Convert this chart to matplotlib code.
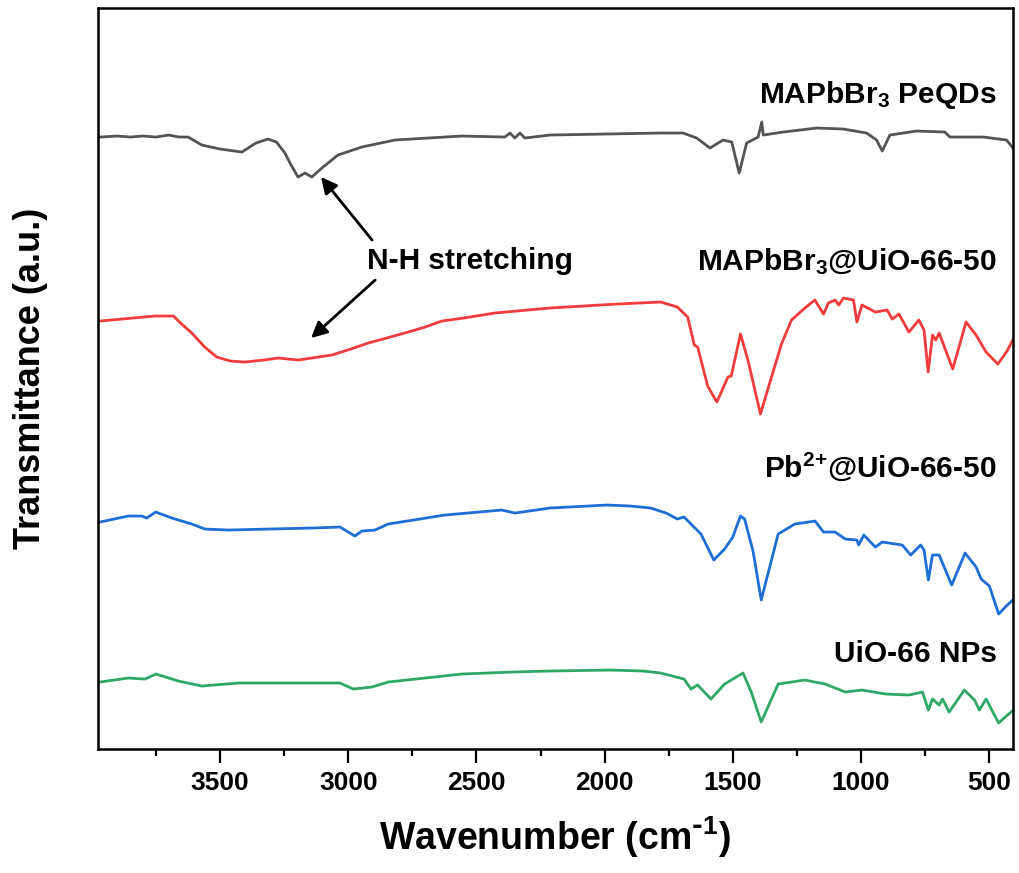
import matplotlib
matplotlib.use('Agg')
import matplotlib.pyplot as plt
import numpy as np

plt.rcParams.update({
    'font.family': ['Liberation Sans', 'DejaVu Sans'],
    'font.weight': 'bold',
    'mathtext.default': 'regular',
})

# FTIR spectra (wavenumber in cm-1, offset transmittance in a.u.)
wn_peqds = [3968, 3900, 3850, 3800, 3750, 3700, 3660, 3625, 3571, 3500, 3415, 3360, 3313,
            3280, 3247, 3225, 3196, 3169, 3142, 3103, 3040, 2947, 2818, 2689, 2557, 2389,
            2369, 2350, 2330, 2311, 2213, 2000, 1781, 1694, 1641, 1589, 1538, 1504, 1475,
            1446, 1401, 1387, 1381, 1303, 1173, 1069, 978, 939, 917, 887, 783, 673, 653,
            523, 432, 407]
tr_peqds = [612, 613, 612, 613, 612, 614, 612, 612, 604, 600, 597, 606, 610,
            607, 596, 585, 572, 576, 572, 581, 594, 602, 609, 611, 613, 612,
            616, 611, 616, 611, 614, 615, 616, 616, 611, 601, 609, 607, 576,
            606, 612, 627, 614, 617, 621, 620, 616, 609, 598, 614, 618, 617, 612,
            612, 609, 601]

wn_mof_pqd = [3968, 3754, 3682, 3650, 3610, 3560, 3513, 3460, 3403, 3330, 3273, 3195, 3064,
              2990, 2922, 2850, 2766, 2700, 2635, 2550, 2428, 2300, 2213, 1952, 1781, 1716,
              1676, 1650, 1637, 1598, 1562, 1519, 1506, 1470, 1441, 1392, 1349, 1310, 1271,
              1219, 1180, 1146, 1127, 1101, 1087, 1068, 1029, 1016, 996, 944, 898, 878, 852,
              813, 774, 754, 738, 721, 708, 695, 642, 590, 551, 512, 466, 430, 396]
tr_mof_pqd = [428, 433, 433, 425, 416, 402, 392, 388, 387, 389, 391, 389, 394,
              400, 406, 411, 417, 422, 428, 431, 436, 439, 441, 445, 447, 442,
              432, 404, 402, 363, 347, 372, 373, 415, 389, 335, 372, 405, 429,
              441, 449, 435, 446, 449, 444, 451, 449, 427, 444, 437, 439, 430, 435,
              417, 429, 419, 377, 414, 409, 416, 380, 427, 414, 397, 385, 398, 415]

wn_pb_mof = [3968, 3858, 3805, 3786, 3751, 3688, 3610, 3559, 3468, 3142, 3032, 2974, 2947,
             2896, 2844, 2623, 2401, 2350, 2213, 1991, 1900, 1820, 1760, 1716, 1690, 1624,
             1574, 1532, 1500, 1470, 1454, 1421, 1389, 1323, 1258, 1179, 1146, 1101, 1061,
             1016, 1009, 989, 944, 917, 839, 806, 767, 754, 737, 721, 695, 646, 594, 551,
             531, 499, 463, 433, 396]
tr_pb_mof = [227, 233, 233, 231, 237, 231, 225, 220, 219, 221, 222, 213, 218,
             219, 225, 234, 239, 236, 241, 244, 243, 241, 236, 230, 232, 215,
             189, 200, 212, 233, 230, 198, 149, 215, 225, 228, 217, 217, 210,
             209, 204, 214, 202, 207, 204, 194, 204, 199, 169, 194, 194, 164, 196, 182,
             170, 163, 135, 143, 152]

wn_uio = [3968, 3858, 3793, 3750, 3663, 3571, 3429, 3032, 2980, 2908, 2844, 2557, 2362,
          2213, 1977, 1850, 1781, 1690, 1663, 1637, 1585, 1532, 1506, 1460, 1428, 1389,
          1323, 1219, 1140, 1061, 996, 904, 813, 760, 737, 721, 695, 682, 656, 597, 557,
          538, 512, 463, 433, 396]
tr_uio = [67, 71, 70, 75, 68, 63, 66, 66, 60, 62, 67, 75, 77,
          78, 79, 78, 76, 70, 60, 64, 50, 65, 69, 76, 57, 27,
          65, 69, 65, 57, 59, 55, 54, 57, 39, 50, 44, 50, 37, 59, 49,
          39, 50, 26, 33, 41]

series = [
    (wn_peqds, tr_peqds, '#545454', 'MAPbBr$_3$ PeQDs', 654),
    (wn_mof_pqd, tr_mof_pqd, '#f03c3c', 'MAPbBr$_3$@UiO-66-50', 487),
    (wn_pb_mof, tr_pb_mof, '#1f6ed6', 'Pb$^{2{+}}$@UiO-66-50', 282),
    (wn_uio, tr_uio, '#2fa867', 'UiO-66 NPs', 95),
]

fig = plt.figure(figsize=(10.19, 8.73), dpi=100)
ax = fig.add_axes([0.0962, 0.142, 0.8979, 0.8488])

for wn, tr, color, label, ylab in series:
    ax.plot(wn, tr, color=color, lw=2.0, solid_joinstyle='round')
    ax.text(470, ylab, label, ha='right', va='center', fontsize=21.5,
            fontweight='bold', color='black')

# N-H stretching annotation with two arrows
ax.text(2525, 488, 'N-H stretching', ha='center', va='center', fontsize=21.5,
        fontweight='bold')
arrow = dict(arrowstyle='-|>', color='black', lw=2, mutation_scale=24,
             shrinkA=0, shrinkB=0)
ax.annotate('', xy=(3106, 572), xytext=(2907, 509), arrowprops=arrow)
ax.annotate('', xy=(3145, 411), xytext=(2895, 469), arrowprops=arrow)

ax.set_xlim(3976, 407)
ax.set_ylim(0, 741)
ax.set_xticks([3500, 3000, 2500, 2000, 1500, 1000, 500])
ax.set_xticks(np.arange(3750, 400, -500), minor=True)
ax.set_yticks([])
ax.tick_params(axis='x', which='major', direction='out', length=10, width=1.6,
               pad=6, labelsize=19)
ax.tick_params(axis='x', which='minor', direction='out', length=5, width=1.6)
for sp in ax.spines.values():
    sp.set_linewidth(1.8)

ax.set_xlabel('Wavenumber (cm$^{\\text{-}1}$)', fontsize=27,
              fontweight='bold', labelpad=14)
ax.set_ylabel('Transmittance (a.u.)', fontsize=26, fontweight='bold')
ax.yaxis.set_label_coords(-0.055, 0.5)

fig.savefig('out.png', dpi=100)
